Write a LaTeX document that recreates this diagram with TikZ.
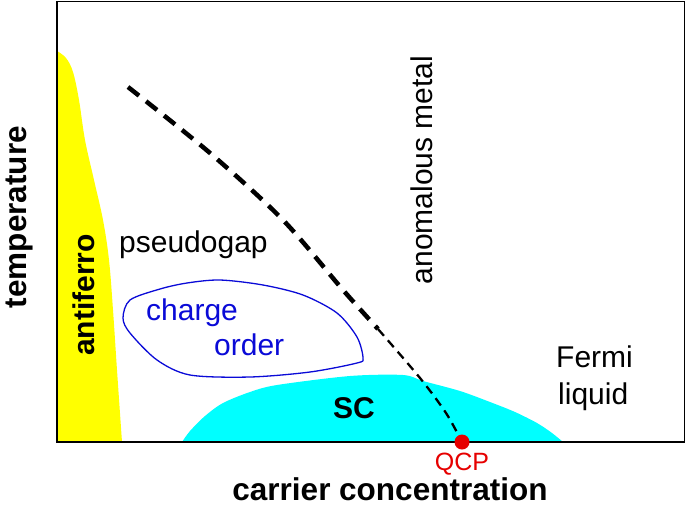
\documentclass[tikz,border=0pt]{standalone}
\usepackage{fontspec}
\setmainfont{Liberation Sans}
\definecolor{afyellow}{RGB}{255,255,0}
\definecolor{sccyan}{RGB}{0,255,255}
\definecolor{coblue}{RGB}{10,10,215}
\definecolor{qcpred}{RGB}{230,0,0}
\begin{document}
\begin{tikzpicture}[x=1pt,y=-1pt,
  lbl/.style={font=\fontsize{30}{36}\selectfont, inner sep=0pt},
  blbl/.style={font=\fontsize{30}{36}\selectfont\bfseries, inner sep=0pt},
  axlbl/.style={font=\fontsize{31.5}{38}\selectfont\bfseries, inner sep=0pt},
  bluelbl/.style={lbl, text=coblue},
  thickdash/.style={line width=4.5pt, dash pattern=on 14pt off 9pt},
  thindash/.style={line width=2.3pt, dash pattern=on 9pt off 6pt}
]
\useasboundingbox (0,0) rectangle (688,507);
% antiferro region
\fill[afyellow] plot[smooth, tension=0.6] coordinates {(57,51) (66,58) (73,72) (79,100) (85,140) (94,180) (103,220) (109,260) (113,310) (117,370) (122,442)} -- (57,442) -- cycle;
% SC dome
\fill[sccyan] plot[smooth, tension=0.5] coordinates {(182,442) (190,431) (205,416) (223,403) (250,392) (277,385) (350,376) (403,375) (423,381) (460,391) (490,402) (515,412) (537,423) (552,433) (563,442)} -- cycle;
% charge order blob
\draw[coblue, line width=1.3pt] plot[smooth cycle, tension=0.5] coordinates {(123,318) (130,300) (160,289) (187,283) (220,280) (263,285) (303,295) (337,313) (357,337) (363,358) (357,363) (310,372) (250,377) (190,375) (157,360) (130,333)};
% frame
\draw[line width=1.5pt] (57,1.5) rectangle (684.5,442);
% QCP
\coordinate (qcpc) at (462,442);
\coordinate (dstart) at (128,87);
\coordinate (dmid) at (378,329);
\draw[thickdash] plot[smooth] coordinates {(dstart) (210,153) (283,220) (343,290) (dmid)};
\draw[thindash] plot[smooth] coordinates {(dmid) (420,378) (446,413) (qcpc)};
\node[circle, fill=qcpred, minimum size=15pt, inner sep=0pt] (qcpdot) at (qcpc) {};
\node[lbl, text=qcpred, font=\fontsize{25}{30}\selectfont, text depth=0pt, anchor=base] (qcp) at (462,470) {QCP};
% labels
\node[axlbl, anchor=base, text height=22pt, text depth=0pt] (xlab) at (390,500) {carrier concentration};
\node[axlbl, anchor=base, rotate=90] (ylab) at (27,217) {temperature};
\node[blbl, anchor=base, rotate=90] (af) at (94,295) {antiferro};
\node[lbl, anchor=base west] (pg) at (119,252) {pseudogap};
\node[bluelbl, anchor=base west] (co1) at (146,320) {charge};
\node[bluelbl, anchor=base west] (co2) at (214,355) {order};
\node[lbl, anchor=base, rotate=90] (am) at (432,170) {anomalous metal};
\node[lbl, anchor=base west] (fl1) at (556,367) {Fermi};
\node[lbl, anchor=base west] (fl2) at (558,404) {liquid};
\node[blbl, anchor=base] (sc) at (354,418) {SC};
\end{tikzpicture}
\end{document}
